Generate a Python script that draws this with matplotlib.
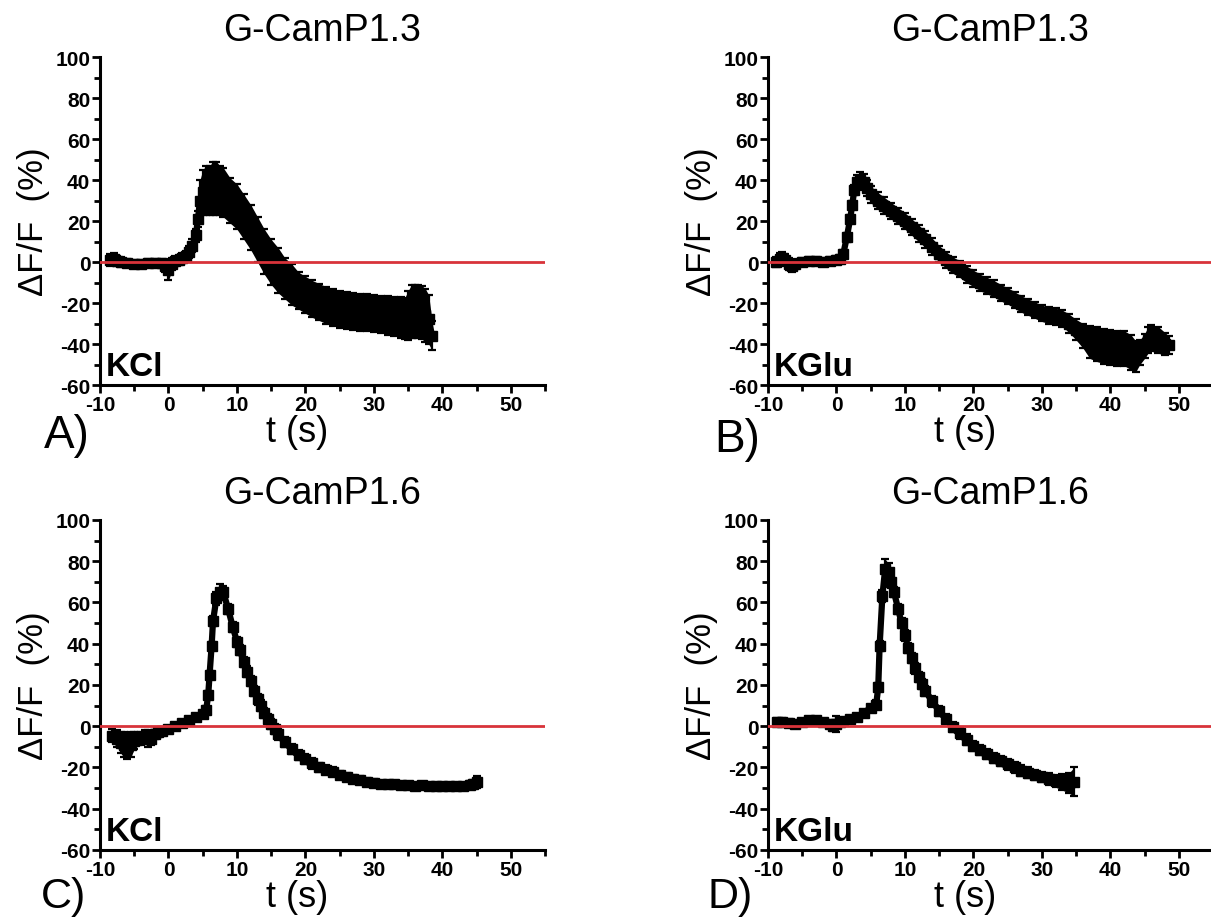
import numpy as np
import matplotlib
matplotlib.use("Agg")
from matplotlib import pyplot as plt
from matplotlib.ticker import MultipleLocator

plt.rcParams['font.family'] = ['Liberation Sans', 'DejaVu Sans']
plt.rcParams['axes.unicode_minus'] = False

# panel A: G-CamP1.3, KCl
tA = [-8.5, -8, -7.5, -7, -6, -5, -4, -3, -2, -1, -0.5, 0, 0.5, 1, 1.5, 2, 2.5, 3, 3.5, 4,
      4.3, 4.6, 5, 5.5, 6, 6.5, 7, 7.5, 8, 9, 10, 11, 12, 13, 14, 15, 16, 17, 18, 19, 20,
      21, 22, 23, 24, 25, 26, 27, 28, 29, 30, 31, 32, 33, 34, 34.5, 35, 35.5, 36, 36.5,
      37, 37.5, 38, 38.5]
mA = [1, 1.5, 0.5, 0, -0.5, -1, -1, -0.5, -0.5, -0.5, -2, -4, -1, 0.5, 1, 2, 3, 5, 8, 13,
      21, 30, 34, 35, 35, 36, 36, 35, 34, 30, 27, 22, 17, 11, 5, 0, -4, -8, -11, -14, -16,
      -18, -19.5, -21, -22, -23, -23.5, -24, -24.5, -24.5, -25, -25.5, -26, -26.5, -27,
      -27.5, -26, -24, -24, -24, -24.5, -26, -28, -36]
eA = [3, 3, 2.5, 2.5, 2, 2, 2, 2, 2, 2, 3, 5, 3, 2.5, 2.5, 2.5, 2.5, 3, 3, 3,
      4, 10, 11, 12, 12, 13, 13, 12, 12, 11, 11, 11, 11, 11, 11, 11, 11, 10, 10, 9, 9,
      9, 9, 9, 9, 9, 9, 9, 9, 9, 9, 9, 9.5, 9.5, 10, 10, 12, 13, 13, 13, 13, 13, 12, 7]

# panel B: G-CamP1.3, KGlu
tB = [-8.8, -8.3, -8, -7.5, -7, -6.5, -6, -5, -4, -3, -2, -1, 0, 0.5, 1, 1.5, 2, 2.3, 2.6,
      3, 3.5, 4, 4.5, 5, 6, 7, 8, 9, 10, 11, 12, 13, 14, 15, 16, 17, 18, 19, 20, 21, 22,
      23, 24, 25, 26, 27, 28, 29, 30, 31, 32, 33, 34, 35, 36, 37, 38, 39, 40, 41, 42, 43,
      43.7, 44.3, 45, 45.5, 46, 47, 48, 48.5]
mB = [0, 1.5, 2, 1, -1, -2, -1, 0, 0.5, 0.5, 0, 0.5, 1, 1.5, 4, 12, 21, 28, 35,
      39, 40, 39, 36, 33, 30, 27.5, 25, 22.5, 20, 17, 14, 11, 7.5, 4, 1, -1.5, -3.5, -6, -8,
      -10, -11.5, -13, -15, -16.5, -18.5, -20.5, -22, -23.5, -25, -26, -26.5, -27.5, -30,
      -33, -36, -39, -40, -41, -41.5, -42, -42, -44, -46, -44, -41, -38, -37, -38, -40, -40.5]
eB = [2.5, 3, 3, 3, 3, 3, 2.5, 2, 2, 2, 2, 2, 2, 2, 2, 2, 2, 2, 2.5,
      3.5, 4, 4, 4, 4, 4, 4, 4, 4, 4, 4, 4, 4, 4, 4, 4, 4, 4, 4, 4, 4, 4,
      4, 4, 4, 4, 4, 4, 4, 4, 4, 4, 4, 4.5, 5, 6, 8, 8.5, 8.5, 8.5, 8.5, 8.5, 8.5, 7.5, 6,
      6, 6.5, 6.5, 6.5, 5.5, 4.5]

# panel C: G-CamP1.6, KCl
tC = [-8.3, -7.5, -7, -6.5, -6, -5.5, -5, -4.5, -4, -3.5, -3, -2.5, -2, -1.5, -1, 0, 1, 2,
      3, 4, 5, 5.5, 5.8, 6, 6.3, 6.5, 7, 7.5, 8, 8.7, 9.4, 10, 10.4, 11, 11.5, 12, 12.5,
      13, 13.5, 14, 14.5, 15, 15.5, 16, 17, 18, 19, 20, 21, 22, 23, 24, 25, 26, 27, 28,
      29, 30, 31, 32, 33, 34, 35, 36, 37, 38, 39, 40, 41, 42, 43, 44, 44.5, 45]
mC = [-4.5, -6, -8, -9, -10, -9, -7, -6, -6, -5, -6, -6, -4, -3, -2.5, -1.5, 0, 1.5,
      3, 4.5, 6, 8, 15, 25, 39, 51, 62, 65, 65, 57, 48, 41, 37, 31, 26.5, 22, 17,
      13, 10, 6.5, 3.5, 1, -1.5, -4, -7.5, -11, -14, -16, -18, -20, -21, -22, -23.5, -24.5,
      -25.5, -26, -27, -27.5, -28, -28, -28, -28.5, -28.5, -29, -28.5, -29, -29, -29, -29,
      -29, -29, -28.5, -28, -27]
eC = [3, 4, 5, 6, 6, 6, 4, 3, 3, 3, 4, 3, 2, 2, 1.5, 1.5, 1.5, 1.5,
      1.5, 1.5, 1.5, 2, 2, 2, 2, 2.5, 3, 4, 3, 2.5, 2.5, 2.5, 2.5, 2.5, 2.5, 2.5, 2.5,
      2.5, 2.5, 2.5, 2.5, 2.5, 2.5, 2.5, 2.5, 2.5, 2.5, 2.5, 2.5, 2, 2, 2, 2, 2, 2, 2,
      2, 2, 1.5, 1.5, 1.5, 1.5, 1.5, 1.5, 1.5, 1.5, 1.5, 1.5, 1.5, 1.5, 1.5, 2, 2, 3]

# panel D: G-CamP1.6, KGlu
tD = [-8.7, -8, -7, -6, -5, -4, -3, -2, -1, -0.5, 0, 0.5, 1, 2, 3, 4, 5, 5.8, 6.1, 6.3,
      6.7, 7.1, 7.6, 8, 8.4, 9, 9.5, 10, 10.5, 11, 11.5, 12, 12.5, 13, 14, 15, 16, 17,
      18, 19, 20, 21, 22, 23, 24, 25, 26, 27, 28, 29, 30, 31, 32, 33, 34, 34.7]
mD = [2, 2, 1.5, 1, 2, 3, 3, 2, 1, 0, 1, 2, 2.5, 3.5, 4.5, 6.5, 9, 10.5, 19, 39,
      63, 76, 75, 70, 65, 57, 50, 44, 38, 33, 28, 24, 20.5, 17, 12, 7.5, 3.5, -0.5,
      -3.5, -6.5, -9.5, -11.5, -13.5, -15.5, -17, -18.5, -20, -21.5, -22.5, -23.5, -24.5,
      -25.5, -26.5, -27, -27.5, -27]
eD = [2, 2, 2, 2, 1.5, 1.5, 1.5, 1.5, 2, 2.5, 4, 2, 1.5, 1.5, 1.5, 1.5, 1.5, 2, 2, 2.5,
      3, 5, 4, 3, 2.5, 2.5, 2.5, 2.5, 2.5, 2.5, 2.5, 2.5, 2.5, 2.5, 2.5, 2.5, 2.5, 2.5,
      2.5, 2.5, 2.5, 2.5, 2.5, 2.5, 2.5, 2.5, 2.5, 2.5, 2.5, 2.5, 2.5, 3, 3, 4, 5, 7]

panels = [
    ("G-CamP1.3", "KCl", "A)", tA, mA, eA),
    ("G-CamP1.3", "KGlu", "B)", tB, mB, eB),
    ("G-CamP1.6", "KCl", "C)", tC, mC, eC),
    ("G-CamP1.6", "KGlu", "D)", tD, mD, eD),
]

fig = plt.figure(figsize=(12.11, 9.2), dpi=100)
rects = [
    [0.0826, 0.5804, 0.3675, 0.3565],
    [0.6342, 0.5804, 0.3675, 0.3565],
    [0.0826, 0.075, 0.3675, 0.3587],
    [0.6342, 0.075, 0.3675, 0.3587],
]
# panel letters: (x, y, size)
letter_pos = [(0.036, 0.513, 33), (0.590, 0.509, 33), (0.034, 0.013, 31), (0.584, 0.013, 31)]
tickfont = ['Liberation Sans Narrow', 'Liberation Sans']

for (title, salt, letter, t, m, e), rect, lp in zip(panels, rects, letter_pos):
    ax = fig.add_axes(rect)
    t = np.array(t)
    m = np.array(m)
    e = np.array(e)
    ax.fill_between(t, m - e, m + e, color='black', lw=0, zorder=2)
    ax.errorbar(t, m, yerr=e, fmt='s-', color='black', ms=6.5, lw=4.5,
                elinewidth=1.6, capsize=3, capthick=1.6, zorder=3)
    ax.axhline(0, color='#d8333a', lw=2, zorder=5)

    ax.set_xlim(-10, 55)
    ax.set_ylim(-60, 100)
    ax.xaxis.set_major_locator(MultipleLocator(10))
    ax.xaxis.set_minor_locator(MultipleLocator(5))
    ax.yaxis.set_major_locator(MultipleLocator(20))
    ax.yaxis.set_minor_locator(MultipleLocator(10))
    for s in ['top', 'right']:
        ax.spines[s].set_visible(False)
    for s in ['left', 'bottom']:
        ax.spines[s].set_linewidth(2.2)
    ax.tick_params(which='major', direction='out', length=6, width=2, pad=1)
    ax.tick_params(which='minor', direction='out', length=4, width=2)
    for lab in ax.get_xticklabels() + ax.get_yticklabels():
        lab.set_fontweight('bold')
        lab.set_fontsize(15)
        lab.set_family(tickfont)

    ax.set_title(title, fontsize=27, pad=12)
    ax.set_xlabel("t (s)", fontsize=26)
    ax.xaxis.set_label_coords(0.443, -0.088, transform=ax.transAxes)
    ax.xaxis.label.set_va('top')
    ax.set_ylabel("\u0394F/F  (%)", fontsize=25, labelpad=4)
    ax.text(0.012, 0.008, salt, transform=ax.transAxes, fontsize=24,
            fontweight='bold', va='bottom', ha='left')
    fig.text(lp[0], lp[1], letter, fontsize=lp[2], va='baseline', ha='left')

fig.savefig("out.png", dpi=100)
